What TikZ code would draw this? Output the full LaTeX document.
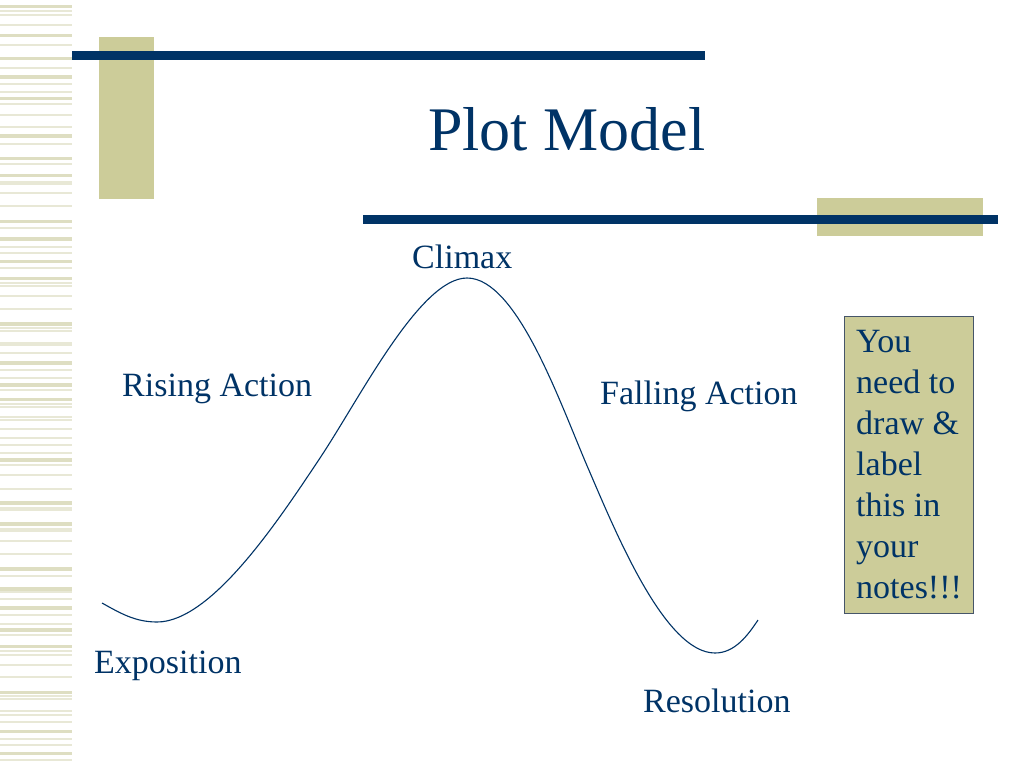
\documentclass[tikz,border=0pt]{standalone}
\usepackage{fontspec}
\setmainfont{Liberation Serif}
\definecolor{navy}{RGB}{0,51,102}
\definecolor{khaki}{RGB}{204,204,153}
\definecolor{stripeA}{RGB}{222,222,194}
\definecolor{stripeB}{RGB}{232,232,214}
\definecolor{boxedge}{RGB}{70,85,105}
\tikzset{
  lbl/.style={anchor=base west, inner sep=0pt, text=navy, font=\fontsize{34}{41}\selectfont},
  ttl/.style={anchor=base west, inner sep=0pt, text=navy, font=\fontsize{62}{70}\selectfont},
  bar/.style={draw=navy, line width=9pt},
  khakirect/.style={fill=khaki, draw=none},
  plotcurve/.style={draw=navy, line width=1.1pt},
  notebox/.style={fill=khaki, draw=boxedge, line width=1.2pt}
}
\begin{document}
\begin{tikzpicture}[x=1pt,y=-1pt]
\useasboundingbox (0,0) rectangle (1024,768);
\fill[white] (0,0) rectangle (1024,768);
% left stripes
\foreach \yy in {6.5,35.5,58.5,77,98.5,136,158.5,175.5,221.5,239,261.5,278.5,324,363,385,399.5,460,503,524,569,589,608,630,646.5,692.5,731.5,753.5}
  \fill[stripeA] (0,\yy-1.6) rectangle (72,\yy+1.6);
\foreach \yy in {11,15,25,45,68,84,92,104,115,127,144,164,182,184,193,206,228,247,253,268,283,286,296,309,328,331,343,345,353,370,378,390,404,407,417,420,429,438,445,453,465,475,489,508,510,529,531,541,554,576,592,599,615,624,635,651,655,665,677,696,699,711,715,722,739,745,760}
  \fill[stripeB] (0,\yy-0.6) rectangle (72,\yy+0.6);
% decorative bars
\fill[khakirect] (99,37) rectangle (154,199);
\draw[bar] (72,55.5) -- (705,55.5);
\fill[khakirect] (817,198) rectangle (983,236);
\draw[bar] (363,219.5) -- (998,219.5);
% title
\node[ttl] (title) at (428,150) {Plot Model};
% curve
\draw[plotcurve] (102,603) .. controls (120,613) and (135,622) .. (157,622)
  .. controls (212,622) and (280,518) .. (320,458)
  .. controls (360,398) and (420,278) .. (467,278)
  .. controls (517,278) and (560,403) .. (588,468)
  .. controls (616,533) and (665,653) .. (715,653)
  .. controls (735,653) and (748,635) .. (758,620);
% labels
\node[lbl] (climax) at (412,268) {Climax};
\node[lbl] (rising) at (122,396) {Rising Action};
\node[lbl] (falling) at (600,404) {Falling Action};
\node[lbl] (expo) at (94,673) {Exposition};
\node[lbl] (resol) at (643,712) {Resolution};
% note box
\node[notebox, anchor=north west, minimum width=129pt, minimum height=297pt, inner sep=0pt] (box) at (844,316) {};
\node[anchor=north west, inner sep=0pt, text=navy, font=\fontsize{34}{41}\selectfont, align=left] (note) at (856,330) {You\\need to\\draw \&\\label\\this in\\your\\notes!!!};
\end{tikzpicture}
\end{document}
